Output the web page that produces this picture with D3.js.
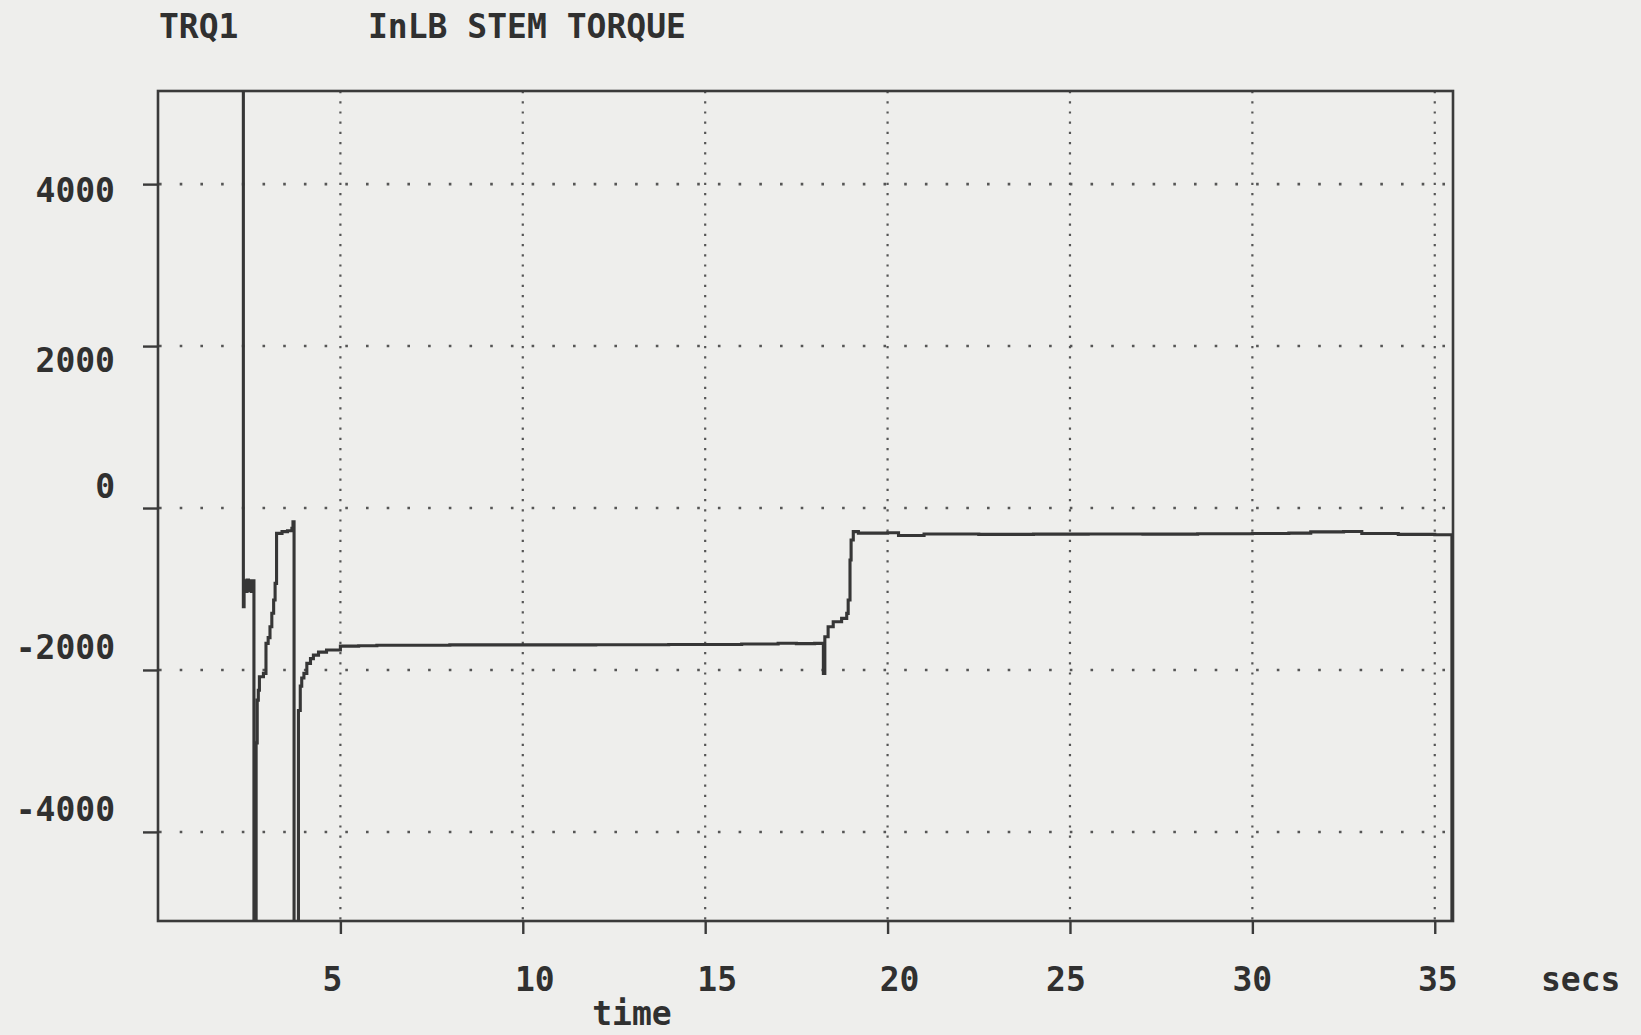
<!DOCTYPE html>
<html>
<head>
<meta charset="utf-8">
<script src="https://cdn.jsdelivr.net/npm/d3@7"></script>
<style>
  html, body { margin: 0; padding: 0; background: #eeeeec; }
  svg { display: block; }
  text { font-family: "DejaVu Sans Mono", "Liberation Mono", monospace; font-weight: bold; fill: #303030; }
</style>
</head>
<body>
<svg id="chart" width="1641" height="1035"></svg>
<script>
// ---- data ----
const chartId = "TRQ1";
const chartTitle = "InLB STEM TORQUE";
const xLabel = "time";
const xUnit = "secs";
const xTicks = [5, 10, 15, 20, 25, 30, 35];
const yTicks = [4000, 2000, 0, -2000, -4000];

// time (s) and stem torque (in-lb); values beyond the axis range are clipped
const timeSec = [
  2.34, 2.34, 2.36, 2.40, 2.44, 2.48, 2.52, 2.56, 2.60, 2.63, 2.63,
  2.69, 2.69, 2.72, 2.75, 2.78, 2.89, 2.96, 3.02, 3.07, 3.12, 3.17, 3.21, 3.25, 3.40, 3.55, 3.67, 3.70, 3.73, 3.73,
  3.85, 3.85, 3.90, 3.94, 4.00, 4.08, 4.18, 4.26, 4.40, 4.62, 5.00, 5.50, 6.0, 8.0, 10.0, 12.0, 14.0, 16.0, 17.0, 17.5, 18.0, 18.24, 18.24,
  18.28, 18.37, 18.51, 18.74, 18.88, 18.92, 18.97, 19.00, 19.06, 19.20,
  20.0, 20.3, 21.0, 22.5, 24.0, 25.5, 27.0, 28.5, 30.0, 31.0, 31.6, 32.5, 33.0, 34.0, 35.0, 35.47, 35.47
];
const torque = [
  6000, -1220, -900, -1030, -890, -1020, -900, -1030, -900, -1000, -6000,
  -6000, -2900, -2372, -2250, -2084, -2042, -1671, -1600, -1466, -1300, -1136, -930, -313, -292, -280, -250, -169, -240, -6000,
  -6000, -2500, -2200, -2100, -2042, -1919, -1860, -1816, -1780, -1754, -1705, -1700, -1695, -1690, -1690, -1688, -1685, -1680, -1670, -1675, -1672, -1671, -2042,
  -1590, -1466, -1404, -1363, -1301, -1136, -642, -395, -292, -310,
  -305, -340, -320, -325, -322, -320, -322, -318, -315, -310, -295, -290, -315, -325, -330, -330, -5200
];

// ---- layout ----
const svg = d3.select("#chart");
const plot = { left: 158, right: 1453, top: 91, bottom: 921 };

const x = d3.scaleLinear().domain([0, 35.5]).range([plot.left, plot.right]);
const y = d3.scaleLinear().domain([-5100, 5150]).range([plot.bottom, plot.top]);

const ink = "#3a3a3a";

// clip
svg.append("defs").append("clipPath").attr("id", "plotclip")
  .append("rect")
  .attr("x", plot.left).attr("y", plot.top)
  .attr("width", plot.right - plot.left).attr("height", plot.bottom - plot.top);

// horizontal dotted grid
svg.append("g").selectAll("line").data(yTicks).join("line")
  .attr("x1", plot.left + 1).attr("x2", plot.right)
  .attr("y1", d => y(d)).attr("y2", d => y(d))
  .attr("stroke", "#555").attr("stroke-width", 2.6)
  .attr("stroke-dasharray", "2.6 18.1");

// vertical dotted grid
svg.append("g").selectAll("line").data(xTicks).join("line")
  .attr("x1", d => x(d)).attr("x2", d => x(d))
  .attr("y1", plot.top).attr("y2", plot.bottom)
  .attr("stroke", "#555").attr("stroke-width", 2.2)
  .attr("stroke-dasharray", "2.2 8");

// axes ticks (via d3 axes, labels drawn separately)
const yAxis = d3.axisLeft(y).tickValues(yTicks).tickSize(15).tickFormat("");
const gy = svg.append("g").attr("transform", `translate(${plot.left},0)`).call(yAxis);
gy.select(".domain").remove();
gy.selectAll("line").attr("stroke", ink).attr("stroke-width", 2.4);

const xAxis = d3.axisBottom(x).tickValues(xTicks).tickSize(13).tickFormat("");
const gx = svg.append("g").attr("transform", `translate(0,${plot.bottom})`).call(xAxis);
gx.select(".domain").remove();
gx.selectAll("line").attr("stroke", ink).attr("stroke-width", 2.4);

// frame
svg.append("rect")
  .attr("x", plot.left).attr("y", plot.top)
  .attr("width", plot.right - plot.left).attr("height", plot.bottom - plot.top)
  .attr("fill", "none").attr("stroke", ink).attr("stroke-width", 2.6);

// data line
const pts = timeSec.map((t, i) => [t, torque[i]]);
const line = d3.line().x(d => x(d[0])).y(d => y(d[1])).curve(d3.curveStepAfter);
svg.append("path")
  .attr("clip-path", "url(#plotclip)")
  .attr("d", line(pts))
  .attr("fill", "none")
  .attr("stroke", "#363636")
  .attr("stroke-width", 3.1)
  .attr("stroke-linejoin", "miter");

// y labels
svg.append("g").selectAll("text").data(yTicks).join("text")
  .attr("x", 115)
  .attr("y", d => y(d) + (d > 0 ? (d > 3000 ? 6 : 14) : -22))
  .attr("text-anchor", "end")
  .attr("dominant-baseline", "central")
  .attr("font-size", 33)
  .text(d => d);

// x labels (the printout places them slightly off their ticks)
const xLabelShift = d => d < 10 ? -8 : (d <= 20 ? 12 : (d < 30 ? -4 : (d > 30 ? 3 : 0)));
svg.append("g").selectAll("text").data(xTicks).join("text")
  .attr("x", d => x(d) + xLabelShift(d))
  .attr("y", 991)
  .attr("text-anchor", "middle")
  .attr("font-size", 33)
  .text(d => d);

svg.append("text").attr("x", 1541).attr("y", 991).attr("font-size", 33).text(xUnit);
svg.append("text").attr("x", 632).attr("y", 1025).attr("text-anchor", "middle").attr("font-size", 33).text(xLabel);

// title
svg.append("text").attr("x", 159).attr("y", 38).attr("font-size", 33).text(chartId);
svg.append("text").attr("x", 368).attr("y", 38).attr("font-size", 33).text(chartTitle);
</script>
</body>
</html>
